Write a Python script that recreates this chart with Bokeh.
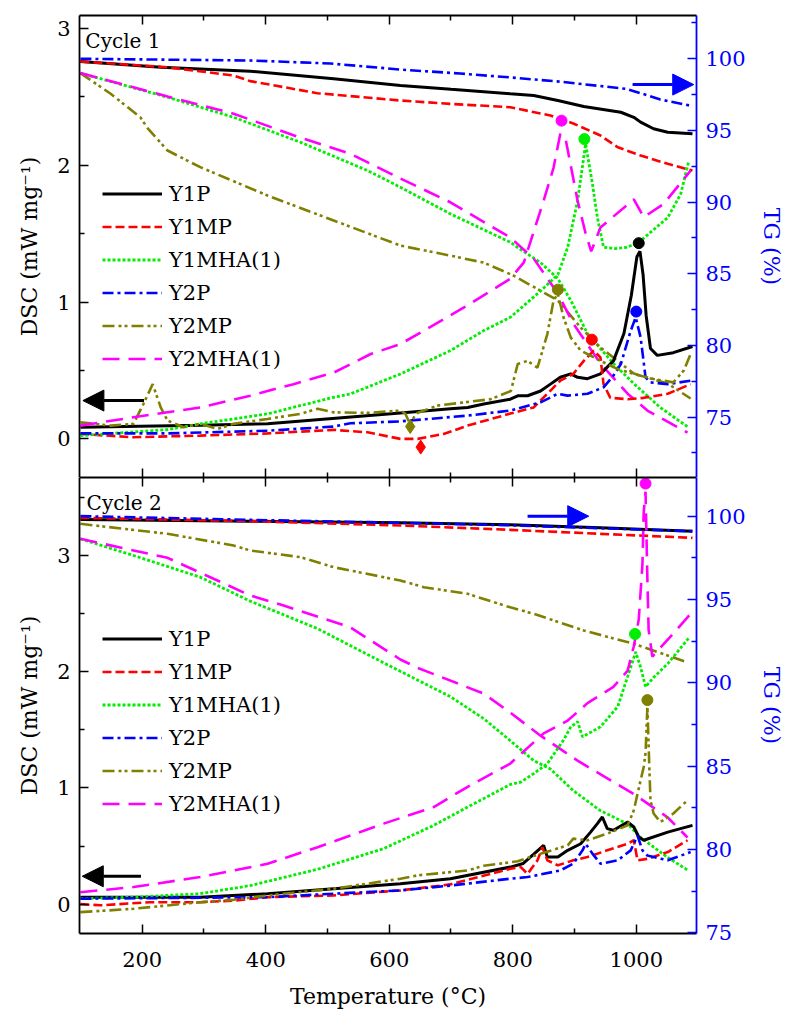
from bokeh.plotting import figure
from bokeh.models import (Range1d, LinearAxis, FixedTicker, Legend, LegendItem,
                          Label, Arrow, NormalHead)
from bokeh.layouts import column
from bokeh.embed import file_html
from bokeh.resources import INLINE

FONT = "DejaVu Serif"
NAMES = ["Y1P", "Y1MP", "Y1MHA(1)", "Y2P", "Y2MP", "Y2MHA(1)"]
COLORS = {"Y1P": "#000000", "Y1MP": "#ff0000", "Y1MHA(1)": "#00ee00",
          "Y2P": "#0000ff", "Y2MP": "#808000", "Y2MHA(1)": "#ff00ff"}
DASH = {"Y1P": "solid", "Y1MP": "9 4", "Y1MHA(1)": "3 2", "Y2P": "11 4 3 4",
        "Y2MP": "12 4 3 3 3 4", "Y2MHA(1)": "17 9"}
WIDTH = {"Y1P": 3, "Y1MP": 2.6, "Y1MHA(1)": 2.8, "Y2P": 2.6, "Y2MP": 2.6, "Y2MHA(1)": 2.6}

# ---------------- Cycle 1 : DSC (mW mg-1) ----------------
c1_dsc_Y1P_T = [100, 294, 403, 618, 699, 727, 753, 796, 808, 824, 845, 861, 877, 894, 905, 921, 942, 963, 980, 992, 1001, 1006, 1011, 1016, 1023, 1034, 1060, 1091]
c1_dsc_Y1P = [0.085, 0.10, 0.11, 0.19, 0.22, 0.23, 0.255, 0.29, 0.315, 0.315, 0.35, 0.40, 0.45, 0.475, 0.45, 0.44, 0.475, 0.57, 0.77, 1.05, 1.33, 1.37, 1.2, 0.9, 0.66, 0.61, 0.63, 0.675]
c1_dsc_Y1MP_T = [100, 186, 294, 403, 510, 565, 618, 646, 688, 727, 796, 834, 856, 877, 898, 915, 931, 942, 947, 958, 986, 1012, 1051, 1088]
c1_dsc_Y1MP = [0.036, 0.012, 0.024, 0.04, 0.066, 0.048, 0.0, 0.0, 0.036, 0.097, 0.185, 0.23, 0.33, 0.425, 0.475, 0.57, 0.645, 0.595, 0.40, 0.30, 0.29, 0.30, 0.33, 0.40]
c1_dsc_Y1MHA_T = [100, 241, 294, 403, 510, 537, 618, 699, 753, 796, 845, 873, 889, 905, 918, 929, 937, 947, 966, 986, 1007, 1051, 1072, 1085]
c1_dsc_Y1MHA = [0.024, 0.068, 0.11, 0.183, 0.304, 0.328, 0.474, 0.645, 0.791, 0.888, 1.08, 1.2, 1.40, 1.74, 2.155, 1.863, 1.617, 1.40, 1.39, 1.40, 1.447, 1.617, 1.79, 2.03]
c1_dsc_Y2P_T = [100, 241, 403, 510, 537, 618, 727, 796, 845, 873, 889, 921, 947, 963, 975, 991, 999, 1007, 1015, 1023, 1051, 1088]
c1_dsc_Y2P = [0.04, 0.04, 0.06, 0.09, 0.114, 0.128, 0.17, 0.207, 0.267, 0.33, 0.316, 0.33, 0.377, 0.462, 0.547, 0.79, 0.888, 0.742, 0.45, 0.413, 0.40, 0.425]
c1_dsc_Y2MP_T = [100, 149, 186, 202, 217, 230, 241, 267, 294, 322, 348, 403, 456, 484, 510, 565, 618, 626, 634, 643, 678, 727, 764, 797, 808, 824, 840, 856, 866, 873, 882, 894, 910, 942, 970, 996, 1028, 1060, 1077, 1088]
c1_dsc_Y2MP = [0.121, 0.097, 0.11, 0.255, 0.40, 0.23, 0.134, 0.085, 0.11, 0.073, 0.11, 0.146, 0.183, 0.22, 0.194, 0.19, 0.207, 0.185, 0.104, 0.185, 0.243, 0.27, 0.29, 0.35, 0.547, 0.57, 0.52, 0.766, 1.01, 1.06, 0.89, 0.74, 0.645, 0.57, 0.51, 0.474, 0.438, 0.413, 0.50, 0.62]
c1_dsc_Y2MHA_T = [100, 186, 294, 375, 445, 510, 570, 618, 656, 721, 764, 796, 818, 850, 866, 877, 886, 905, 918, 927, 942, 996, 1012, 1044, 1088]
c1_dsc_Y2MHA = [0.097, 0.158, 0.23, 0.316, 0.40, 0.484, 0.62, 0.693, 0.79, 0.96, 1.08, 1.17, 1.29, 1.74, 1.98, 2.23, 2.18, 1.74, 1.50, 1.37, 1.545, 1.75, 1.62, 1.715, 1.96]

# ---------------- Cycle 1 : TG (%) ----------------
c1_tg_Y1P_T = [100, 230, 375, 510, 618, 700, 796, 834, 873, 915, 975, 996, 1007, 1028, 1051, 1091]
c1_tg_Y1P = [99.81, 99.41, 99.13, 98.6, 98.14, 97.87, 97.56, 97.44, 97.09, 96.67, 96.27, 95.92, 95.58, 95.12, 94.88, 94.77]
c1_tg_Y1MP_T = [100, 241, 348, 375, 484, 618, 700, 796, 861, 898, 942, 970, 1007, 1051, 1091]
c1_tg_Y1MP = [99.81, 99.41, 98.83, 98.44, 97.6, 97.09, 96.85, 96.62, 96.04, 95.49, 94.65, 93.83, 93.25, 92.67, 92.2]
c1_tg_Y1MHA_T = [100, 241, 348, 456, 565, 618, 699, 796, 808, 845, 873, 894, 921, 963, 996, 1039, 1085]
c1_tg_Y1MHA = [99.0, 97.32, 95.92, 94.18, 92.2, 91.04, 89.18, 87.2, 86.83, 85.78, 84.67, 83.14, 80.83, 78.74, 77.34, 75.67, 74.27]
c1_tg_Y2P_T = [100, 375, 505, 618, 715, 796, 877, 942, 983, 1007, 1039, 1091]
c1_tg_Y2P = [100.0, 99.88, 99.67, 99.25, 98.97, 98.7, 98.4, 98.1, 97.9, 97.6, 97.16, 96.7]
c1_tg_Y2MP_T = [100, 149, 197, 209, 241, 294, 403, 510, 618, 699, 753, 801, 873, 910, 942, 996, 1051, 1088]
c1_tg_Y2MP = [99.0, 97.56, 95.92, 95.14, 93.6, 92.44, 90.46, 88.72, 86.97, 86.27, 85.78, 84.88, 83.14, 81.25, 79.86, 78.04, 77.34, 76.3]
c1_tg_Y2MHA_T = [100, 241, 348, 456, 537, 618, 699, 796, 834, 873, 898, 942, 986, 1018, 1083]
c1_tg_Y2MHA = [99.0, 97.37, 96.17, 94.5, 93.37, 91.65, 89.99, 87.53, 86.06, 83.62, 81.53, 78.74, 76.64, 75.46, 73.92]

# Cycle 1 marked peaks (circles) and minima (diamonds)
c1_peak_series = ["Y2MHA(1)", "Y1MHA(1)", "Y2MP", "Y1MP", "Y1P", "Y2P"]
c1_peak_T = [879, 916, 873, 928, 1004, 1000]
c1_peak_dsc = [2.325, 2.19, 1.09, 0.725, 1.43, 0.93]
c1_min_series = ["Y2MP", "Y1MP"]
c1_min_T = [634, 651]
c1_min_dsc = [0.09, -0.06]

# ---------------- Cycle 2 : DSC (mW mg-1) ----------------
c2_dsc_Y1P_T = [100, 294, 403, 510, 618, 699, 796, 817, 834, 850, 856, 873, 889, 910, 926, 937, 945, 953, 963, 986, 996, 1004, 1012, 1051, 1091]
c2_dsc_Y1P = [0.06, 0.06, 0.09, 0.133, 0.176, 0.219, 0.319, 0.35, 0.43, 0.506, 0.405, 0.405, 0.463, 0.52, 0.62, 0.693, 0.75, 0.65, 0.636, 0.707, 0.664, 0.578, 0.55, 0.62, 0.678]
c2_dsc_Y1MP_T = [100, 132, 213, 294, 348, 403, 510, 618, 699, 796, 813, 824, 840, 848, 856, 873, 898, 921, 953, 986, 996, 1002, 1018, 1051, 1083]
c2_dsc_Y1MP = [0.0, -0.01, 0.017, 0.017, 0.03, 0.06, 0.075, 0.118, 0.17, 0.305, 0.319, 0.26, 0.377, 0.49, 0.377, 0.334, 0.377, 0.405, 0.463, 0.52, 0.55, 0.377, 0.39, 0.448, 0.55]
c2_dsc_Y1MHA_T = [100, 186, 294, 375, 484, 591, 672, 727, 796, 813, 834, 856, 882, 894, 905, 913, 942, 970, 991, 999, 1007, 1015, 1028, 1051, 1085]
c2_dsc_Y1MHA = [0.047, 0.06, 0.09, 0.16, 0.30, 0.478, 0.678, 0.836, 1.03, 1.05, 1.124, 1.21, 1.41, 1.526, 1.57, 1.44, 1.526, 1.70, 2.04, 2.17, 2.04, 1.87, 1.95, 2.07, 2.29]
c2_dsc_Y2P_T = [100, 294, 403, 510, 618, 699, 796, 824, 877, 898, 913, 918, 929, 942, 970, 991, 1002, 1010, 1018, 1028, 1051, 1088]
c2_dsc_Y2P = [0.047, 0.055, 0.06, 0.09, 0.118, 0.16, 0.219, 0.233, 0.29, 0.348, 0.463, 0.52, 0.435, 0.348, 0.377, 0.463, 0.59, 0.463, 0.418, 0.405, 0.377, 0.448]
c2_dsc_Y2MP_T = [100, 186, 241, 294, 348, 403, 510, 618, 646, 727, 753, 796, 808, 845, 889, 898, 921, 953, 986, 996, 1007, 1012, 1015, 1018, 1021, 1023, 1028, 1039, 1060, 1083]
c2_dsc_Y2MP = [-0.069, -0.04, -0.011, 0.017, 0.038, 0.075, 0.133, 0.219, 0.248, 0.29, 0.33, 0.36, 0.37, 0.434, 0.506, 0.564, 0.55, 0.607, 0.678, 0.808, 1.066, 1.18, 1.3, 1.70, 1.2, 0.894, 0.78, 0.707, 0.78, 0.894]
c2_dsc_Y2MHA_T = [100, 186, 294, 403, 484, 591, 672, 727, 796, 850, 889, 921, 963, 986, 996, 1004, 1010, 1012, 1015, 1018, 1020, 1026, 1036, 1060, 1088]
c2_dsc_Y2MHA = [0.103, 0.147, 0.233, 0.348, 0.49, 0.693, 0.836, 1.01, 1.21, 1.47, 1.58, 1.73, 1.87, 2.01, 2.22, 2.45, 2.93, 3.37, 3.55, 2.79, 2.36, 2.13, 2.19, 2.33, 2.50]

# ---------------- Cycle 2 : TG (%) ----------------
c2_tg_Y1P_T = [100, 375, 618, 796, 942, 1091]
c2_tg_Y1P = [99.8, 99.7, 99.6, 99.48, 99.3, 99.1]
c2_tg_Y1MP_T = [100, 375, 618, 796, 942, 1091]
c2_tg_Y1MP = [99.9, 99.7, 99.44, 99.18, 98.94, 98.7]
c2_tg_Y1MHA_T = [100, 186, 294, 375, 484, 591, 699, 753, 796, 834, 861, 898, 942, 986, 1007, 1051, 1085]
c2_tg_Y1MHA = [98.64, 97.64, 96.34, 94.9, 93.25, 91.2, 89.17, 87.85, 86.53, 85.33, 84.83, 83.53, 82.33, 81.53, 80.72, 79.52, 78.72]
c2_tg_Y2P_T = [100, 375, 618, 796, 1091]
c2_tg_Y2P = [100.0, 99.78, 99.6, 99.45, 99.1]
c2_tg_Y2MP_T = [100, 241, 348, 375, 456, 510, 618, 656, 727, 796, 834, 915, 996, 1083]
c2_tg_Y2MP = [99.54, 98.94, 98.24, 97.94, 97.54, 96.94, 96.14, 95.74, 95.34, 94.53, 94.14, 93.14, 92.34, 91.23]
c2_tg_Y2MHA_T = [100, 241, 375, 429, 537, 618, 646, 753, 796, 845, 889, 905, 996, 1051, 1083]
c2_tg_Y2MHA = [98.64, 97.5, 95.24, 94.64, 93.33, 91.4, 90.9, 89.35, 88.21, 86.83, 85.73, 85.33, 83.33, 81.92, 80.72]

c2_peak_series = ["Y2MHA(1)", "Y1MHA(1)", "Y2MP"]
c2_peak_T = [1015, 998, 1018]
c2_peak_dsc = [3.62, 2.325, 1.756]

# tick values
x_ticks = [200, 400, 600, 800, 1000]
x_minor = [300, 500, 700, 900]
dsc_ticks = [0, 1, 2, 3]
tg_ticks = [75, 80, 85, 90, 95, 100]
tg_minor = [72.5, 77.5, 82.5, 87.5, 92.5, 97.5, 102.5]

c1_dsc = {"Y1P": (c1_dsc_Y1P_T, c1_dsc_Y1P), "Y1MP": (c1_dsc_Y1MP_T, c1_dsc_Y1MP),
          "Y1MHA(1)": (c1_dsc_Y1MHA_T, c1_dsc_Y1MHA), "Y2P": (c1_dsc_Y2P_T, c1_dsc_Y2P),
          "Y2MP": (c1_dsc_Y2MP_T, c1_dsc_Y2MP), "Y2MHA(1)": (c1_dsc_Y2MHA_T, c1_dsc_Y2MHA)}
c1_tg = {"Y1P": (c1_tg_Y1P_T, c1_tg_Y1P), "Y1MP": (c1_tg_Y1MP_T, c1_tg_Y1MP),
         "Y1MHA(1)": (c1_tg_Y1MHA_T, c1_tg_Y1MHA), "Y2P": (c1_tg_Y2P_T, c1_tg_Y2P),
         "Y2MP": (c1_tg_Y2MP_T, c1_tg_Y2MP), "Y2MHA(1)": (c1_tg_Y2MHA_T, c1_tg_Y2MHA)}
c2_dsc = {"Y1P": (c2_dsc_Y1P_T, c2_dsc_Y1P), "Y1MP": (c2_dsc_Y1MP_T, c2_dsc_Y1MP),
          "Y1MHA(1)": (c2_dsc_Y1MHA_T, c2_dsc_Y1MHA), "Y2P": (c2_dsc_Y2P_T, c2_dsc_Y2P),
          "Y2MP": (c2_dsc_Y2MP_T, c2_dsc_Y2MP), "Y2MHA(1)": (c2_dsc_Y2MHA_T, c2_dsc_Y2MHA)}
c2_tg = {"Y1P": (c2_tg_Y1P_T, c2_tg_Y1P), "Y1MP": (c2_tg_Y1MP_T, c2_tg_Y1MP),
         "Y1MHA(1)": (c2_tg_Y1MHA_T, c2_tg_Y1MHA), "Y2P": (c2_tg_Y2P_T, c2_tg_Y2P),
         "Y2MP": (c2_tg_Y2MP_T, c2_tg_Y2MP), "Y2MHA(1)": (c2_tg_Y2MHA_T, c2_tg_Y2MHA)}


def style_axis(ax, color="black", labels=True):
    ax.axis_line_color = color
    ax.axis_line_width = 1.8
    ax.major_tick_line_color = color
    ax.minor_tick_line_color = color
    ax.major_tick_line_width = 1.5
    ax.minor_tick_line_width = 1.5
    ax.major_tick_in = 9
    ax.major_tick_out = 0
    ax.minor_tick_in = 5
    ax.minor_tick_out = 0
    ax.major_label_text_font = FONT
    ax.major_label_text_font_size = "21px"
    ax.major_label_text_color = color if labels else None
    ax.major_label_standoff = 9 if labels else 0
    ax.axis_label_text_font = FONT
    ax.axis_label_text_font_size = "22px"
    ax.axis_label_text_font_style = "normal"
    ax.axis_label_text_color = color
    ax.axis_label_standoff = 12


def make_panel(dsc, tg, dsc_rng, tg_rng, dsc_minor, height, btop, bbot, xlabels,
               legend_vy, cycle_text, cycle_xy, black_arrow, blue_arrow):
    p = figure(width=786, height=height, x_range=Range1d(98.5, 1097.5),
               y_range=Range1d(*dsc_rng), output_backend="svg", toolbar_location=None,
               min_border_left=79, min_border_right=90, min_border_top=btop,
               min_border_bottom=bbot, x_axis_location=None, y_axis_location=None)
    p.extra_y_ranges = {"tg": Range1d(*tg_rng)}
    p.outline_line_color = None
    p.background_fill_color = "white"
    for g in p.grid:
        g.visible = False

    below = LinearAxis(ticker=FixedTicker(ticks=x_ticks, minor_ticks=x_minor))
    style_axis(below, labels=xlabels)
    if xlabels:
        below.axis_label = "Temperature (°C)"
        below.major_label_standoff = 18
        below.axis_label_standoff = 14
    above = LinearAxis(ticker=FixedTicker(ticks=x_ticks, minor_ticks=x_minor))
    style_axis(above, labels=False)
    left = LinearAxis(ticker=FixedTicker(ticks=dsc_ticks, minor_ticks=dsc_minor),
                      axis_label="DSC (mW mg⁻¹)")
    style_axis(left)
    right = LinearAxis(y_range_name="tg", axis_label="TG (%)",
                       ticker=FixedTicker(ticks=tg_ticks, minor_ticks=tg_minor))
    style_axis(right, color="#0000ff")
    right.axis_label_standoff = 10
    p.add_layout(below, "below")
    p.add_layout(above, "above")
    p.add_layout(left, "left")
    p.add_layout(right, "right")

    items = []
    for n in NAMES:
        t, v = tg[n]
        p.line(t, v, y_range_name="tg", line_color=COLORS[n], line_width=WIDTH[n],
               line_dash=DASH[n])
    for n in NAMES:
        t, v = dsc[n]
        r = p.line(t, v, line_color=COLORS[n], line_width=WIDTH[n], line_dash=DASH[n])
        items.append(LegendItem(label=n, renderers=[r]))

    legend = Legend(items=items, location=(23, legend_vy), padding=0, margin=0,
                    spacing=8, glyph_width=60, glyph_height=25, label_height=25,
                    label_standoff=7, label_text_font=FONT, label_text_font_size="21px",
                    label_text_color="black",
                    background_fill_alpha=0, border_line_color=None)
    p.add_layout(legend)

    p.add_layout(Label(x=cycle_xy[0], y=cycle_xy[1], text=cycle_text, text_font=FONT,
                       text_font_size="20px", text_color="black",
                       text_baseline="middle", text_align="left"))
    bx0, bx1, by = black_arrow
    p.add_layout(Arrow(end=NormalHead(size=21, fill_color="black", line_color="black"),
                       x_start=bx0, y_start=by, x_end=bx1, y_end=by,
                       line_color="black", line_width=3))
    ux0, ux1, uy = blue_arrow
    p.add_layout(Arrow(end=NormalHead(size=21, fill_color="#0000ff", line_color="#0000ff"),
                       x_start=ux0, y_start=uy, x_end=ux1, y_end=uy, y_range_name="tg",
                       line_color="#0000ff", line_width=3))
    return p


p1 = make_panel(c1_dsc, c1_tg, (-0.282, 3.093), (70.79, 103.02), [0.5, 1.5, 2.5],
                477, 15, 0, False, 106, "Cycle 1", (108, 2.905),
                (203, 104, 0.28), (994, 1093, 98.2))
for n, t, v in zip(c1_peak_series, c1_peak_T, c1_peak_dsc):
    p1.scatter([t], [v], marker="circle", size=11, color=COLORS[n])
for n, t, v in zip(c1_min_series, c1_min_T, c1_min_dsc):
    p1.scatter([t], [v], marker="diamond", size=14, color=COLORS[n])

p2 = make_panel(c2_dsc, c2_tg, (-0.2526, 3.672), (74.96, 102.32), [0.5, 1.5, 2.5, 3.5],
                537, 0, 81, True, 117, "Cycle 2", (110, 3.454),
                (198, 103, 0.24), (824, 923, 100.0))
for n, t, v in zip(c2_peak_series, c2_peak_T, c2_peak_dsc):
    p2.scatter([t], [v], marker="circle", size=11, color=COLORS[n])

layout = column(p1, p2, spacing=0)
open("out.html", "w").write(file_html(layout, INLINE))
